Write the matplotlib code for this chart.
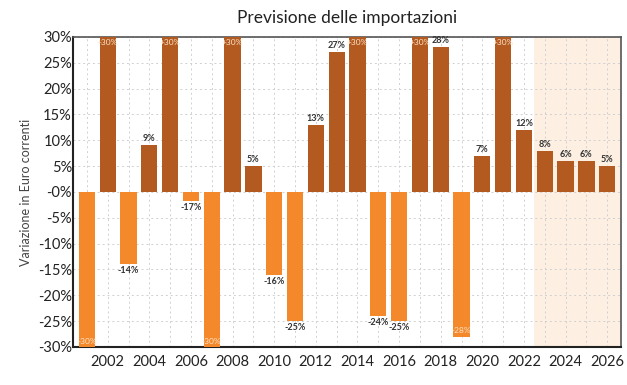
import numpy as np
import matplotlib.pyplot as plt
from matplotlib.ticker import FuncFormatter

plt.rcParams['font.family'] = ['Lato', 'DejaVu Sans']

years = list(range(2001, 2027))
values = [-30, 30, -14, 9, 30, -1.7, -30, 30, 5, -16, -25, 13, 27, 30,
          -24, -25, 30, 28, -28, 7, 30, 12, 8, 6, 6, 5]
labels = ['-30%', '+30%', '-14%', '9%', '+30%', '-17%', '-30%', '+30%', '5%', '-16%',
          '-25%', '13%', '27%', '+30%', '-24%', '-25%', '+30%', '28%', '-28%', '7%',
          '+30%', '12%', '8%', '6%', '6%', '5%']
forecast_start = 2022.5

pos_color = '#b35a20'
neg_color = '#f3892a'

fig = plt.figure(figsize=(6.27, 3.85), dpi=100)
ax = fig.add_axes([0.117, 0.099, 0.873, 0.805])

ax.axvspan(forecast_start, 2026.65, color='#fdebdb', alpha=0.8, zorder=0, lw=0)

colors = [pos_color if v > 0 else neg_color for v in values]
ax.bar(years, values, width=0.78, color=colors, zorder=3)

for x, v, lab in zip(years, values, labels):
    if v >= 30:
        # clipped bar: label inside the top
        ax.text(x, v - 0.4, lab, ha='center', va='top', fontsize=6, color='#fbe3c8', zorder=4)
    elif v <= -28:
        ax.text(x, v + 0.4, lab, ha='center', va='bottom', fontsize=6, color='#fbe3c8', zorder=4)
    elif v > 0:
        ax.text(x, v + 0.4, lab, ha='center', va='bottom', fontsize=6.5, color='#333333',
                fontweight='bold', zorder=4)
    else:
        ax.text(x, v - 0.4, lab, ha='center', va='top', fontsize=6.5, color='#333333',
                fontweight='bold', zorder=4)

ax.set_xlim(2000.35, 2026.65)
ax.set_ylim(-30, 30)
ax.set_yticks(np.arange(-30, 31, 5))
ax.yaxis.set_major_formatter(FuncFormatter(lambda y, p: '-0%' if y == 0 else '%d%%' % y))
ax.set_xticks(range(2002, 2027, 2))
ax.set_xticks(years, minor=True)
ax.tick_params(axis='both', which='both', length=0, labelsize=10.5, colors='#222222')
ax.tick_params(axis='x', pad=6)
ax.tick_params(axis='y', pad=1)

ax.grid(True, which='both', color='#d0d0d0', linestyle=(0, (2, 3)), linewidth=0.7, zorder=1)
ax.set_axisbelow(True)

for s in ['top', 'right']:
    ax.spines[s].set_color('#555555')
    ax.spines[s].set_linewidth(1.2)
for s in ['left', 'bottom']:
    ax.spines[s].set_color('#222222')
    ax.spines[s].set_linewidth(1.5)

ax.set_ylabel('Variazione in Euro correnti', fontsize=9, color='#444444', labelpad=4)
ax.set_title('Previsione delle importazioni', fontsize=12.5, color='#222222', pad=10)

fig.savefig('out.png', dpi=100)
